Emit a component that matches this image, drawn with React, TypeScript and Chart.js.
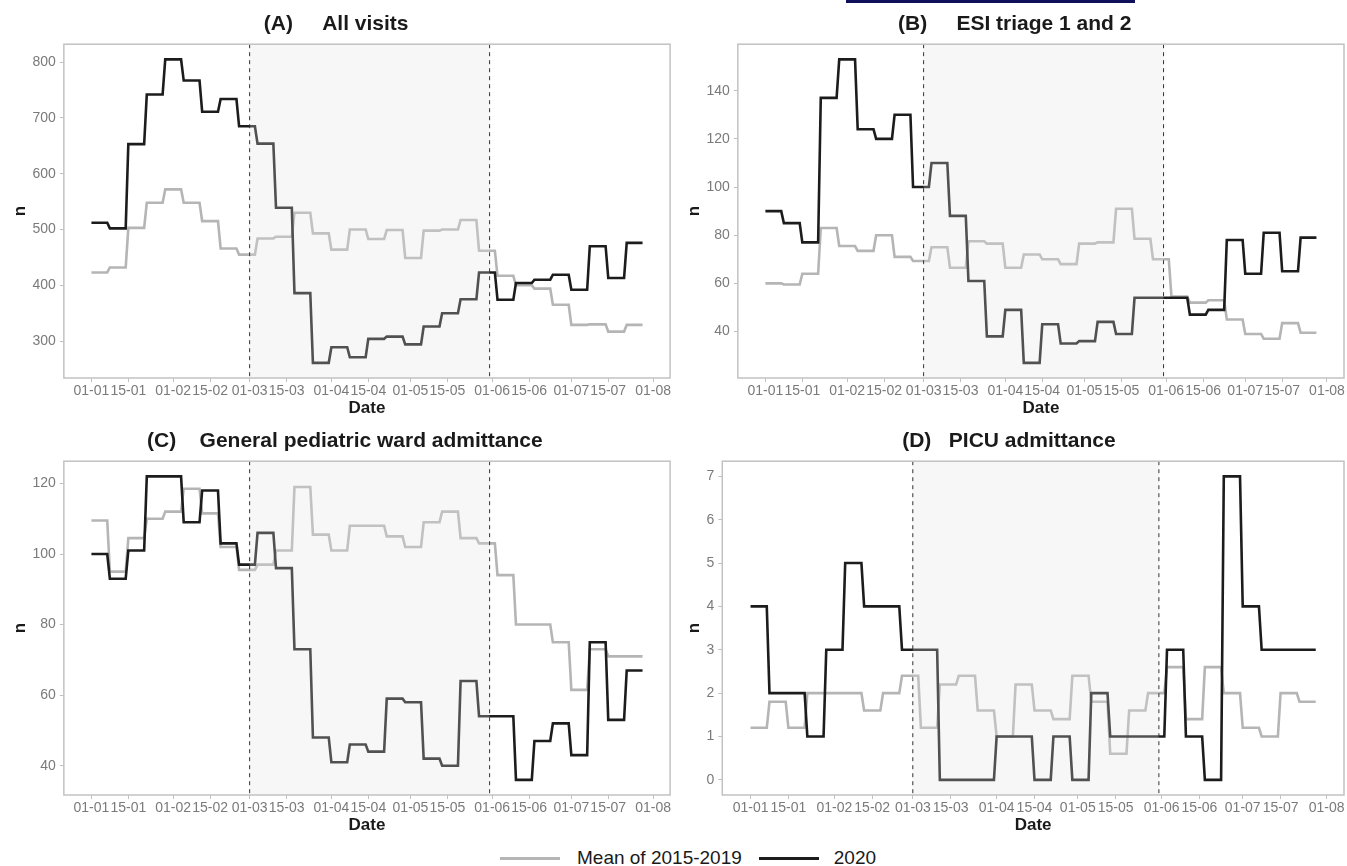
import React, { useEffect, useRef } from 'react';
import { Chart, registerables } from 'chart.js';

Chart.register(...registerables);

const FONT = "'Liberation Sans', Arial, Helvetica, sans-serif";
Chart.defaults.font.family = FONT;

// x-axis tick labels (day-month, year 2020)
const xTickLabels = ['01-01', '15-01', '01-02', '15-02', '01-03', '15-03', '01-04', '15-04', '01-05', '15-05', '01-06', '15-06', '01-07', '15-07', '01-08'];
const lockdownPeriod = ['01-03', '31-05'];
const daysPerWeek = 7;

// (A) All visits
const allVisitsMean = [423, 432, 503, 548, 572, 548, 515, 466, 455, 484, 487, 530, 493, 464, 500, 483, 499, 449, 498, 500, 517, 462, 417, 400, 394, 365, 329, 330, 317, 329];
const allVisits2020 = [512, 502, 653, 742, 805, 767, 711, 734, 685, 654, 539, 386, 261, 289, 271, 304, 308, 294, 326, 350, 375, 423, 374, 404, 410, 419, 392, 470, 413, 476];
const allVisitsTicks = [300, 400, 500, 600, 700, 800];

// (B) ESI triage 1 and 2
const esiMean = [60, 59.5, 64, 83, 75.5, 73.5, 80, 71, 69.3, 75, 66.5, 77.5, 76.5, 66.5, 72, 70, 68, 76.5, 77, 91, 78.5, 70, 54.5, 52, 53, 45, 39, 37, 43.5, 39.5];
const esi2020 = [90, 85, 77, 137, 153, 124, 120, 130, 100, 110, 88, 61, 38, 49, 27, 43, 35, 36, 44, 39, 54, 54, 54, 47, 49, 78, 64, 81, 65, 79];
const esiTicks = [40, 60, 80, 100, 120, 140];

// (C) General pediatric ward admittance
const wardMean = [109.5, 95, 104.5, 110, 112, 118.5, 111.5, 102, 95.5, 97, 101, 119, 105.5, 101, 108, 108, 105, 102, 109, 112, 104.5, 103, 94, 80, 80, 75, 61.5, 73, 71, 71];
const ward2020 = [100, 93, 101, 122, 122, 109, 118, 103, 97, 106, 96, 73, 48, 41, 46, 44, 59, 58, 42, 40, 64, 54, 54, 36, 47, 52, 43, 75, 53, 67];
const wardTicks = [40, 60, 80, 100, 120];

// (D) PICU admittance
const picuMean = [1.2, 1.8, 1.2, 2, 2, 2, 1.6, 2, 2.4, 1.2, 2.2, 2.4, 1.6, 1, 2.2, 1.6, 1.4, 2.4, 1.8, 0.6, 1.6, 2, 2.6, 1.4, 2.6, 2, 1.2, 1, 2, 1.8];
const picu2020 = [4, 2, 2, 1, 3, 5, 4, 4, 3, 3, 0, 0, 0, 1, 1, 0, 1, 0, 2, 1, 1, 1, 3, 1, 0, 7, 4, 3, 3, 3];
const picuTicks = [0, 1, 2, 3, 4, 5, 6, 7];

const legendLabels = ['Mean of 2015-2019', '2020'];
const GRAY = '#b5b5b5';
const BLACK = '#1c1c1c';

function dayOfYear(label: string) {
  const [d, m] = label.split('-').map(Number);
  return (Date.UTC(2020, m - 1, d) - Date.UTC(2020, 0, 1)) / 86400000;
}

function weeklySteps(values: number[]) {
  const pts: { x: number; y: number }[] = [];
  values.forEach((v, k) => {
    pts.push({ x: k * daysPerWeek, y: v });
    pts.push({ x: k * daysPerWeek + daysPerWeek - 1, y: v });
  });
  return pts;
}

function expandRange(values: number[]) {
  const lo = Math.min(...values);
  const hi = Math.max(...values);
  const pad = (hi - lo) * 0.05;
  return [lo - pad, hi + pad];
}

const panelDecor = {
  id: 'panelDecor',
  afterDatasetsDraw(chart: any) {
    const { ctx, chartArea: a, scales } = chart;
    const x = scales.x;
    const x0 = x.getPixelForValue(dayOfYear(lockdownPeriod[0]));
    const x1 = x.getPixelForValue(dayOfYear(lockdownPeriod[1]));
    ctx.save();
    ctx.fillStyle = 'rgba(225,225,225,0.27)';
    ctx.fillRect(x0, a.top, x1 - x0, a.bottom - a.top);
    ctx.strokeStyle = '#333333';
    ctx.lineWidth = 1;
    ctx.setLineDash([4, 4]);
    [x0, x1].forEach((px: number) => {
      ctx.beginPath();
      ctx.moveTo(px, a.top);
      ctx.lineTo(px, a.bottom);
      ctx.stroke();
    });
    ctx.setLineDash([]);
    ctx.strokeStyle = '#c2c2c2';
    ctx.lineWidth = 1.5;
    ctx.strokeRect(a.left, a.top, a.right - a.left, a.bottom - a.top);
    ctx.restore();
  },
};

type PanelProps = {
  title: string;
  mean: number[];
  current: number[];
  yTicks: number[];
  left: number;
  top: number;
  width: number;
  height: number;
  padLeft: number;
  padRight: number;
};

function Panel(p: PanelProps) {
  const ref = useRef<HTMLCanvasElement | null>(null);
  useEffect(() => {
    if (!ref.current) return;
    const xTickDays = xTickLabels.map(dayOfYear);
    const lastDay = p.current.length * daysPerWeek - 1;
    const [xMin, xMax] = expandRange([0, lastDay]);
    const [yMin, yMax] = expandRange([...p.mean, ...p.current]);
    const chart = new Chart(ref.current, {
      type: 'line',
      data: {
        datasets: [
          { label: legendLabels[1], data: weeklySteps(p.current), borderColor: BLACK, borderWidth: 2.6, pointRadius: 0, tension: 0, order: 1, borderJoinStyle: 'miter' },
          { label: legendLabels[0], data: weeklySteps(p.mean), borderColor: GRAY, borderWidth: 2.6, pointRadius: 0, tension: 0, order: 2, borderJoinStyle: 'miter' },
        ],
      },
      options: {
        responsive: false,
        animation: false,
        events: [],
        layout: { padding: { left: p.padLeft, right: p.padRight, top: 0, bottom: 0 } },
        plugins: {
          legend: { display: false },
          tooltip: { enabled: false },
          title: {
            display: true,
            text: p.title,
            color: '#1a1a1a',
            font: { size: 21, weight: 'bold', lineHeight: 1.2 },
            padding: { top: 12, bottom: 7 },
          },
        },
        scales: {
          x: {
            type: 'linear',
            min: xMin,
            max: xMax,
            afterBuildTicks: (s: any) => {
              s.ticks = xTickDays.map((v) => ({ value: v }));
            },
            ticks: {
              autoSkip: false,
              maxRotation: 0,
              minRotation: 0,
              color: '#7a7a7a',
              font: { size: 14, lineHeight: 1 },
              padding: 2,
              callback: (_v: any, i: number) => xTickLabels[i],
            },
            grid: { drawOnChartArea: false, drawTicks: true, tickLength: 4, color: '#c0c0c0' },
            border: { display: false },
            title: { display: true, text: 'Date', color: '#1a1a1a', font: { size: 17, weight: 'bold', lineHeight: 1 }, padding: { top: 0, bottom: 0 } },
          },
          y: {
            type: 'linear',
            min: yMin,
            max: yMax,
            afterBuildTicks: (s: any) => {
              s.ticks = p.yTicks.map((v) => ({ value: v }));
            },
            ticks: { color: '#7a7a7a', font: { size: 14, lineHeight: 1 }, padding: 4 },
            grid: { drawOnChartArea: false, drawTicks: true, tickLength: 4, color: '#c0c0c0' },
            border: { display: false },
            title: { display: true, text: 'n', color: '#1a1a1a', font: { size: 17, weight: 'bold', lineHeight: 1 }, padding: { top: 0, bottom: 0 } },
          },
        },
      },
      plugins: [panelDecor],
    } as any);
    return () => chart.destroy();
  }, []);
  return (
    <canvas
      ref={ref}
      width={p.width}
      height={p.height}
      style={{ position: 'absolute', left: p.left, top: p.top, width: p.width, height: p.height }}
    />
  );
}

const panels: PanelProps[] = [
  { title: '(A)     All visits  ', mean: allVisitsMean, current: allVisits2020, yTicks: allVisitsTicks, left: 0, top: 0, width: 673, height: 417, padLeft: 11.5, padRight: 0.5 },
  { title: '(B)     ESI triage 1 and 2', mean: esiMean, current: esi2020, yTicks: esiTicks, left: 673, top: 0, width: 674, height: 417, padLeft: 12.5, padRight: 3 },
  { title: ' (C)    General pediatric ward admittance', mean: wardMean, current: ward2020, yTicks: wardTicks, left: 0, top: 417, width: 673, height: 417, padLeft: 11.5, padRight: 0.5 },
  { title: '(D)   PICU admittance  ', mean: picuMean, current: picu2020, yTicks: picuTicks, left: 673, top: 417, width: 674, height: 417, padLeft: 12.5, padRight: 3 },
];

export default function App() {
  return (
    <div style={{ position: 'absolute', left: 0, top: 0, width: 1347, height: 866, background: '#ffffff', fontFamily: FONT, overflow: 'hidden' }}>
      <div style={{ position: 'absolute', left: 846, top: 0, width: 289, height: 3, background: '#10105a' }} />
      {panels.map((p) => (
        <Panel key={p.title} {...p} />
      ))}
      <div style={{ position: 'absolute', left: 500, top: 846, height: 24, display: 'flex', alignItems: 'center', fontSize: 19, color: '#1a1a1a', whiteSpace: 'nowrap' }}>
        <div style={{ width: 60, height: 3, background: GRAY, marginRight: 17 }} />
        <span style={{ marginRight: 17 }}>{legendLabels[0]}</span>
        <div style={{ width: 60, height: 3, background: BLACK, marginRight: 15 }} />
        <span>{legendLabels[1]}</span>
      </div>
    </div>
  );
}
